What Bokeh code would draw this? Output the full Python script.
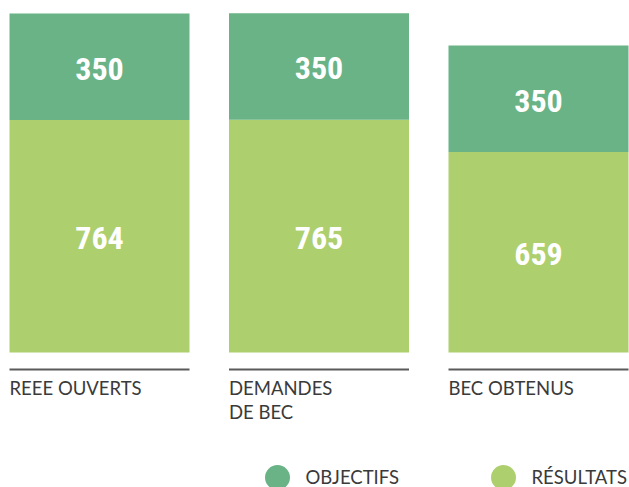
from bokeh.plotting import figure
from bokeh.models import Range1d, ColumnDataSource
from bokeh.core.properties import value
from bokeh.embed import file_html
from bokeh.resources import INLINE

categories = ["REEE OUVERTS", "DEMANDES\nDE BEC", "BEC OBTENUS"]
resultats = [764, 765, 659]
objectifs = [350, 350, 350]
series_names = ["OBJECTIFS", "RÉSULTATS"]

dark = "#69b386"
light = "#aecf6e"

PX_X = 219.5           # pixels per category step
PX_Y = 339 / 1114      # pixels per value unit

p = figure(width=629, height=487, output_backend="svg", toolbar_location=None,
           x_range=Range1d(-99 / PX_X, 530 / PX_X),
           y_range=Range1d(-135 / PX_Y, 352 / PX_Y),
           min_border=0)
p.axis.visible = False
p.grid.visible = False
p.outline_line_color = None
p.background_fill_color = None

xs = list(range(len(categories)))
tops = [r + o for r, o in zip(resultats, objectifs)]
src = ColumnDataSource(dict(
    x=xs, res=resultats, obj=objectifs, top=tops,
    res_mid=[r / 2 for r in resultats],
    obj_mid=[r + o / 2 for r, o in zip(resultats, objectifs)],
    res_lbl=[str(r) for r in resultats], obj_lbl=[str(o) for o in objectifs],
    cat=categories,
))

w = 180 / PX_X
p.vbar(x="x", bottom=0, top="res", width=w, fill_color=light, line_color=None, source=src)
p.vbar(x="x", bottom="res", top="top", width=w, fill_color=dark, line_color=None, source=src)

num_font = value("'Roboto Condensed', 'Noto Sans Condensed', 'Liberation Sans Narrow', 'DejaVu Sans Condensed', sans-serif")
for ycol, lcol in (("res_mid", "res_lbl"), ("obj_mid", "obj_lbl")):
    p.text(x="x", y=ycol, text=lcol, source=src, text_color="white",
           text_font=num_font, text_font_style="bold", text_font_size="32px",
           text_align="center", text_baseline="middle", y_offset=2)

# separator lines under bars
p.segment(x0=[x - w / 2 for x in xs], x1=[x + w / 2 for x in xs],
          y0=-17 / PX_Y, y1=-17 / PX_Y, line_color="#5a5a5a", line_width=2)

# category labels
p.text(x=[x - w / 2 for x in xs], y=[-24 / PX_Y] * len(xs), text=categories,
       text_color="#3a3a3a", text_font=value("Lato"), text_font_size="18.5px",
       text_align="left", text_baseline="top", text_line_height=1.12)

# legend
leg_x = [(277 - 99) / PX_X, (503 - 99) / PX_X]
p.scatter(x=leg_x, y=[-125 / PX_Y] * 2, size=25, marker="circle",
          fill_color=[dark, light], line_color=None)
p.text(x=[lx + 28 / PX_X for lx in leg_x], y=[-124 / PX_Y] * 2, text=series_names,
       text_color="#3a3a3a", text_font=value("Lato"), text_font_size="18.5px",
       text_align="left", text_baseline="middle")

open("out.html", "w").write(file_html(p, INLINE))
